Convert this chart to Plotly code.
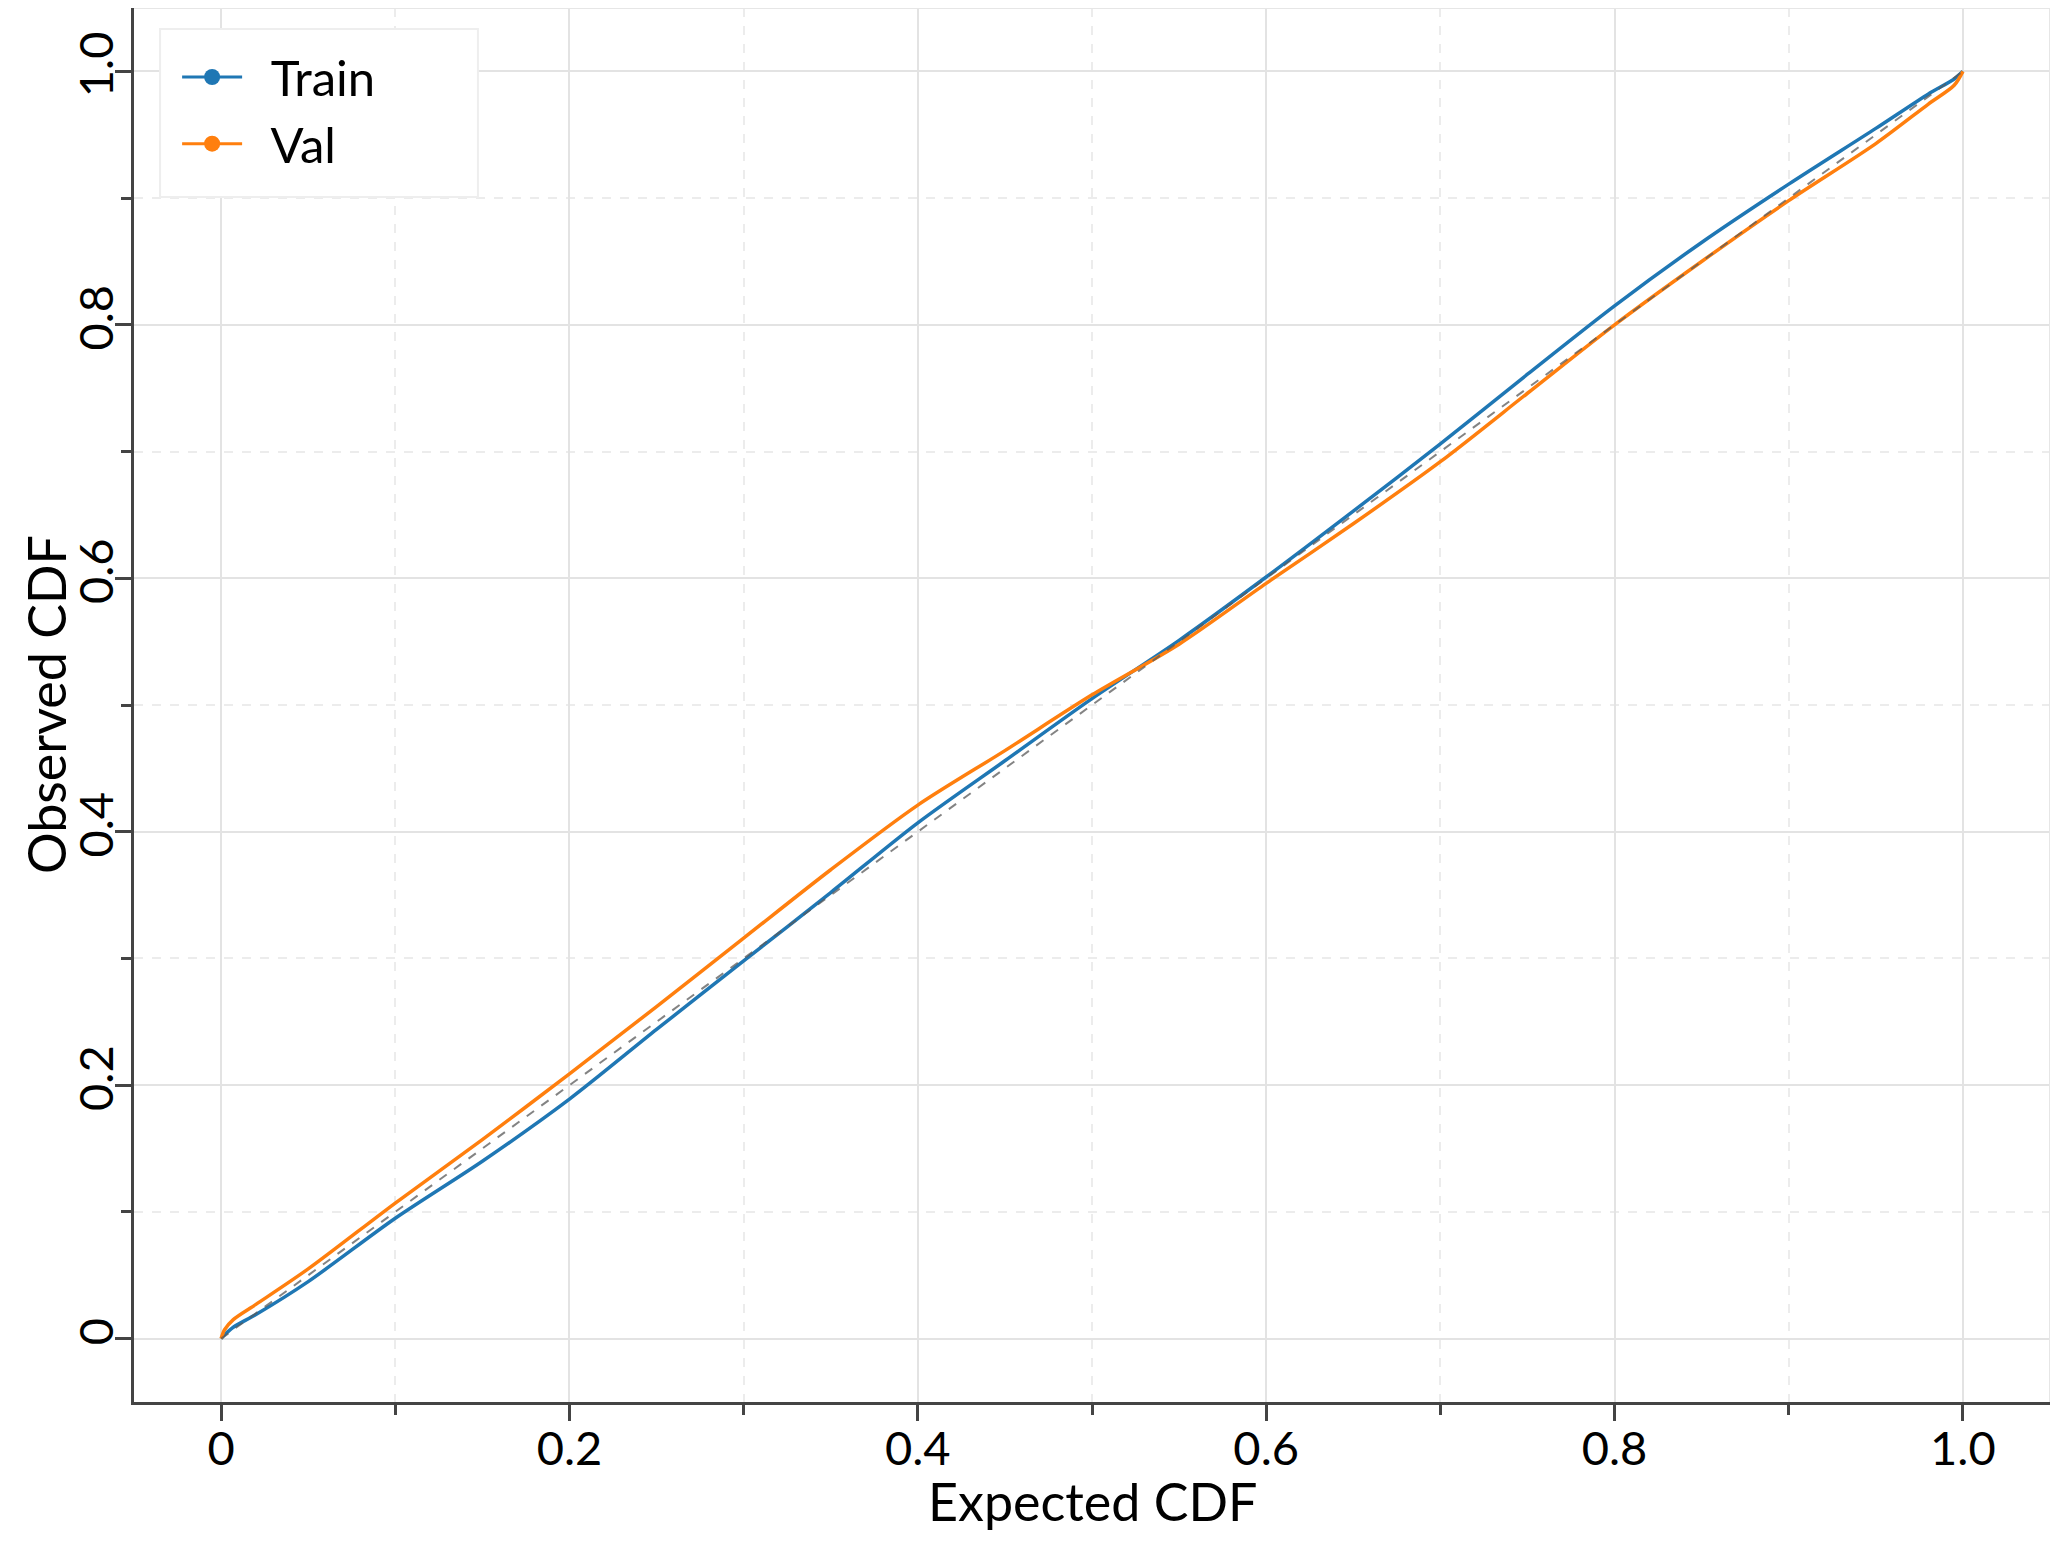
import plotly.graph_objects as go

# expected vs observed CDF
expected = [0.0, 0.002, 0.007, 0.02, 0.05, 0.1, 0.15, 0.2, 0.25, 0.3, 0.35, 0.4, 0.45, 0.5,
            0.55, 0.6, 0.65, 0.7, 0.75, 0.8, 0.85, 0.9, 0.95, 0.98, 0.995, 1.0]
train_cdf = [0.0, 0.003, 0.009, 0.019, 0.045, 0.095, 0.14, 0.189, 0.244, 0.298, 0.352, 0.407,
             0.456, 0.505, 0.551, 0.601, 0.653, 0.706, 0.761, 0.815, 0.865, 0.911, 0.955,
             0.982, 0.994, 1.0]
val_cdf = [0.0, 0.007, 0.015, 0.027, 0.055, 0.107, 0.157, 0.209, 0.262, 0.316, 0.370, 0.421,
           0.464, 0.508, 0.548, 0.596, 0.643, 0.692, 0.746, 0.800, 0.850, 0.898, 0.943,
           0.974, 0.989, 1.0]
ideal = [0.0, 1.0]

tick_vals = [0, 0.2, 0.4, 0.6, 0.8, 1.0]
tick_text = ['0', '0.2', '0.4', '0.6', '0.8', '1.0']

blue = '#1f77b4'
orange = '#ff7f0e'
font = 'Lato'
nb = '\u00a0'

fig = go.Figure()

fig.add_trace(go.Scatter(x=expected, y=train_cdf, mode='lines', name='Train',
                         line=dict(color=blue, width=3.5, shape='spline', smoothing=0.8),
                         showlegend=False))
fig.add_trace(go.Scatter(x=expected, y=val_cdf, mode='lines', name='Val',
                         line=dict(color=orange, width=3.5, shape='spline', smoothing=0.8),
                         showlegend=False))
fig.add_trace(go.Scatter(x=ideal, y=ideal, mode='lines', showlegend=False,
                         line=dict(color='rgba(90,90,90,0.75)', width=2, dash='dash')))

# legend entries drawn with a marker, as in the reference
fig.add_trace(go.Scatter(x=[None], y=[None], mode='lines+markers', name=nb * 2 + 'Train',
                         line=dict(color=blue, width=3), marker=dict(size=24, color=blue)))
fig.add_trace(go.Scatter(x=[None], y=[None], mode='lines+markers', name=nb * 2 + 'Val',
                         line=dict(color=orange, width=3), marker=dict(size=24, color=orange)))

axis_style = dict(
    range=[-0.05, 1.05],
    tickvals=tick_vals,
    ticktext=tick_text,
    ticks='outside',
    ticklen=16,
    tickwidth=3,
    tickcolor='#444',
    showline=True,
    linecolor='#444',
    linewidth=3,
    showgrid=True,
    gridcolor='#e3e3e3',
    gridwidth=2,
    zeroline=False,
    automargin=False,
    tickfont=dict(family=font, size=47, color='black'),
    minor=dict(dtick=0.1, tick0=0, ticks='outside', ticklen=10, tickwidth=3,
               tickcolor='#444', showgrid=True, gridcolor='#ececec',
               gridwidth=1.5, griddash='dash'),
)

fig.update_xaxes(**axis_style, ticklabelstandoff=-12)
fig.update_yaxes(**axis_style, tickangle=-90, ticklabelstandoff=-17)

# axis titles as annotations so they can sit close to the page edges
title_font = dict(family=font, size=52, color='black')
fig.add_annotation(text='Expected CDF', xref='paper', yref='paper', x=0.5, y=0,
                   xanchor='center', yanchor='middle', yshift=-99, showarrow=False,
                   font=title_font)
fig.add_annotation(text='Observed CDF', xref='paper', yref='paper', x=0, y=0.5,
                   xanchor='center', yanchor='middle', xshift=-88, textangle=-90,
                   showarrow=False, font=title_font)

# faint frame on top and right
fig.add_shape(type='line', xref='paper', yref='paper', x0=0, x1=1, y0=1, y1=1,
              line=dict(color='#e6e6e6', width=2))
fig.add_shape(type='line', xref='paper', yref='paper', x0=1, x1=1, y0=0, y1=1,
              line=dict(color='#e6e6e6', width=2))
# legend box
fig.add_shape(type='rect', xref='paper', yref='paper', x0=0.0136, x1=0.1795,
              y0=0.8644, y1=0.985, layer='above', fillcolor='white',
              line=dict(color='#eeeeee', width=2))

# page body adds an 8px margin, so the figure is sized to fit inside the window
fig.update_layout(
    width=2042,
    height=1527,
    plot_bgcolor='white',
    paper_bgcolor='white',
    margin=dict(l=126, r=0, t=0, b=133),
    font=dict(family=font, color='black'),
    legend=dict(x=0.0225, y=0.978, xanchor='left', yanchor='top',
                bgcolor='rgba(0,0,0,0)', borderwidth=0,
                font=dict(family=font, size=49, color='black'),
                itemwidth=60, tracegroupgap=0),
)

fig.write_html("out.html")
